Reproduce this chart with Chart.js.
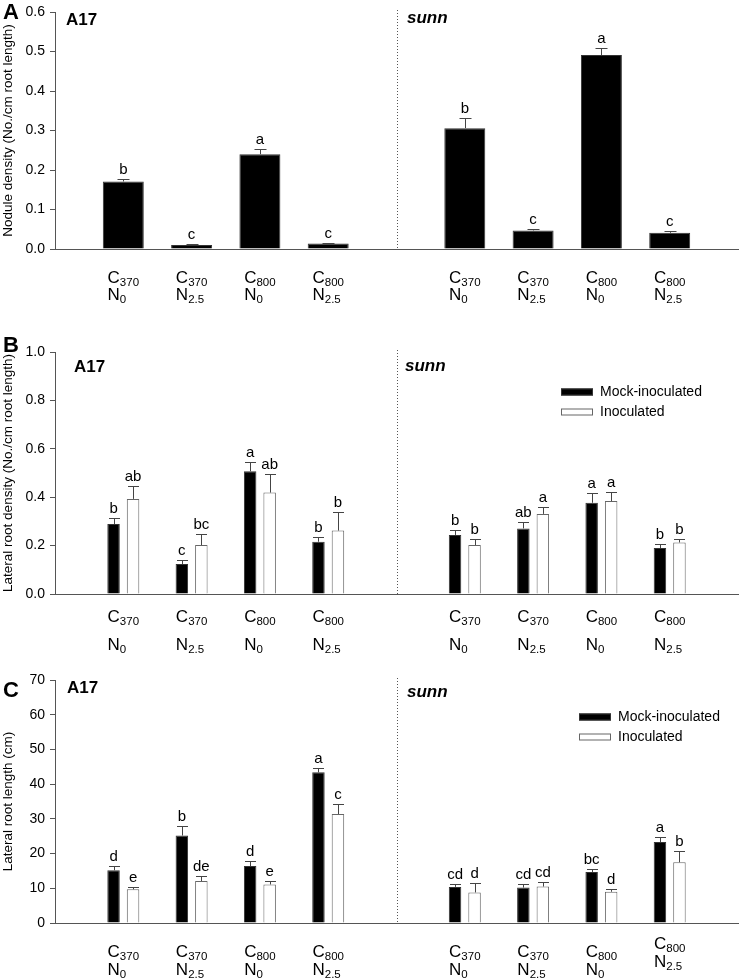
<!DOCTYPE html>
<html lang="en">
<head>
<meta charset="UTF-8">
<title>Nodule density and lateral roots</title>
<script src="https://cdn.jsdelivr.net/npm/chart.js"></script>
<style>
  body { margin: 0; background: #fff; }
  .panel { position: absolute; left: 0; width: 740px; }
</style>
</head>
<body>
<div class="panel" style="top:0px"><canvas id="chartA" width="740" height="325"></canvas></div>
<div class="panel" style="top:325px"><canvas id="chartB" width="740" height="335"></canvas></div>
<div class="panel" style="top:655px"><canvas id="chartC" width="740" height="325"></canvas></div>
<script>
// treatments (same order in both genotypes)
const genotypes = ['A17', 'sunn'];
const co2Levels = ['370', '370', '800', '800'];
const nLevels = ['0', '2.5', '0', '2.5'];
const seriesNames = ['Mock-inoculated', 'Inoculated'];

// A - nodule density (No./cm root length), A17 x4 then sunn x4
const noduleMean = [0.171, 0.010, 0.240, 0.014, 0.306, 0.047, 0.491, 0.041];
const noduleErr  = [0.007, 0.002, 0.012, 0.002, 0.025, 0.003, 0.017, 0.004];
const noduleSig  = ['b', 'c', 'a', 'c', 'b', 'c', 'a', 'c'];

// B - lateral root density
const lrdMock    = [0.289, 0.124, 0.507, 0.216, 0.244, 0.271, 0.377, 0.190];
const lrdMockErr = [0.025, 0.016, 0.040, 0.020, 0.020, 0.027, 0.039, 0.017];
const lrdMockSig = ['b', 'c', 'a', 'b', 'b', 'ab', 'a', 'b'];
const lrdInoc    = [0.393, 0.202, 0.419, 0.262, 0.202, 0.331, 0.384, 0.213];
const lrdInocErr = [0.054, 0.046, 0.075, 0.077, 0.027, 0.027, 0.036, 0.016];
const lrdInocSig = ['ab', 'bc', 'ab', 'b', 'b', 'a', 'a', 'b'];

// C - lateral root length (cm)
const lrlMock    = [15.2, 25.2, 16.4, 43.4, 10.4, 10.2, 14.7, 23.3];
const lrlMockErr = [1.2, 2.7, 1.6, 1.3, 0.7, 1.1, 0.8, 1.6];
const lrlMockSig = ['d', 'b', 'd', 'a', 'cd', 'cd', 'bc', 'a'];
const lrlInoc    = [9.7, 12.1, 11.1, 31.4, 8.8, 10.5, 9.0, 17.5];
const lrlInocErr = [0.8, 1.3, 0.9, 3.0, 2.7, 1.4, 0.9, 3.2];
const lrlInocSig = ['e', 'de', 'e', 'c', 'd', 'cd', 'd', 'b'];

const FONT = '"Liberation Sans", Arial, Helvetica, sans-serif';

// empty slot at both ends and one between genotypes (where the dotted divider goes)
function toSlots(arr, blank) {
  return [blank, ...arr.slice(0, 4), blank, ...arr.slice(4), blank];
}
const slotLabels = toSlots(genotypes.flatMap(g => co2Levels.map((c, i) => g + ' C' + c + ' N' + nLevels[i])), '');

function drawSub(ctx, x, y, main, sub) {
  ctx.font = '17px ' + FONT;
  ctx.fillText(main, x, y);
  const w = ctx.measureText(main).width;
  ctx.font = '11.5px ' + FONT;
  ctx.fillText(sub, x + w, y + 3);
}
function subWidth(ctx, main, sub) {
  ctx.font = '17px ' + FONT;
  const w = ctx.measureText(main).width;
  ctx.font = '11.5px ' + FONT;
  return w + ctx.measureText(sub).width;
}

const panelDecor = {
  id: 'panelDecor',
  afterDraw(chart, args, o) {
    const { ctx, chartArea: area } = chart;
    const x = chart.scales.x, y = chart.scales.y;
    ctx.save();

    // dotted divider between genotypes
    const xd = Math.round(x.getPixelForValue(5)) + 0.5;
    ctx.strokeStyle = '#555';
    ctx.lineWidth = 1;
    ctx.setLineDash([1, 2]);
    ctx.beginPath();
    ctx.moveTo(xd, area.top - 2);
    ctx.lineTo(xd, area.bottom);
    ctx.stroke();
    ctx.setLineDash([]);

    // error bars (upper only) and significance letters
    chart.data.datasets.forEach((ds, d) => {
      const meta = chart.getDatasetMeta(d);
      meta.data.forEach((bar, i) => {
        const v = ds.data[i];
        if (v == null) return;
        const top = Math.round(y.getPixelForValue(v + ds.errors[i])) + 0.5;
        const bx = Math.round(bar.x) + 0.5;
        ctx.strokeStyle = '#444';
        ctx.beginPath();
        ctx.moveTo(bx, bar.y);
        ctx.lineTo(bx, top);
        ctx.moveTo(bx - o.capWidth / 2, top);
        ctx.lineTo(bx + o.capWidth / 2, top);
        ctx.stroke();
        ctx.fillStyle = '#000';
        ctx.font = '15px ' + FONT;
        ctx.textAlign = 'center';
        ctx.textBaseline = 'alphabetic';
        ctx.fillText(ds.letters[i], bar.x, top - 6);
      });
    });

    // treatment labels under the axis
    ctx.textAlign = 'left';
    ctx.textBaseline = 'alphabetic';
    ctx.fillStyle = '#000';
    for (let k = 0; k < 8; k++) {
      const slot = k < 4 ? k + 1 : k + 2;
      const cx = x.getPixelForValue(slot);
      const c = co2Levels[k % 4], n = nLevels[k % 4];
      const x0 = cx - subWidth(ctx, 'C', c) / 2;
      const lift = (o.lift && o.lift[k]) || 0;
      drawSub(ctx, x0, o.labelY[0] - lift, 'C', c);
      drawSub(ctx, x0, o.labelY[1] - lift, 'N', n);
    }

    // panel letter and genotype names
    ctx.font = 'bold 22px ' + FONT;
    ctx.fillText(o.letter, 3, o.letterY);
    ctx.font = 'bold 17px ' + FONT;
    ctx.fillText(genotypes[0], o.a17[0], o.a17[1]);
    ctx.font = 'italic bold 17px ' + FONT;
    ctx.fillText(genotypes[1], o.sunn[0], o.sunn[1]);

    // legend
    if (o.legend) {
      const [lx, ly] = o.legend;
      chart.data.datasets.forEach((ds, d) => {
        const yy = ly + d * 20;
        ctx.fillStyle = ds.backgroundColor;
        ctx.fillRect(lx, yy - 3.5, 32, 7);
        ctx.strokeStyle = ds.borderColor;
        ctx.strokeRect(lx + 0.5, yy - 3, 31, 6);
        ctx.fillStyle = '#000';
        ctx.font = '14px ' + FONT;
        ctx.textBaseline = 'middle';
        ctx.fillText(ds.label, lx + 39, yy);
      });
    }
    ctx.restore();
  }
};

function makeChart(id, cfg) {
  const ctx = document.getElementById(id).getContext('2d');
  return new Chart(ctx, {
    type: 'bar',
    data: { labels: slotLabels, datasets: cfg.datasets },
    options: {
      responsive: false,
      animation: false,
      layout: { padding: cfg.padding },
      datasets: { bar: { categoryPercentage: cfg.catPct, barPercentage: cfg.barPct } },
      scales: {
        x: {
          offset: false,
          grid: { display: false },
          ticks: { display: false },
          border: { color: '#555', width: 1 },
          afterFit(s) { s.height = 0; }
        },
        y: {
          min: 0,
          max: cfg.yMax,
          ticks: {
            stepSize: cfg.step,
            color: '#000',
            padding: 5,
            font: { family: FONT, size: 14, lineHeight: 1 },
            callback: v => cfg.decimals ? Number(v).toFixed(cfg.decimals) : v
          },
          grid: { drawOnChartArea: false, drawTicks: true, tickLength: 5, color: '#555' },
          border: { color: '#555', width: 1 },
          title: {
            display: true,
            text: cfg.yTitle,
            color: '#000',
            padding: 0,
            font: { family: FONT, size: 13.5 }
          },
          afterFit(s) { s.width = 55; }
        }
      },
      plugins: {
        legend: { display: false },
        tooltip: { enabled: false },
        panelDecor: cfg.decor
      }
    },
    plugins: [panelDecor]
  });
}

function bars(label, values, errs, sig, fill, border) {
  return {
    label: label,
    data: toSlots(values, null),
    errors: toSlots(errs, null),
    letters: toSlots(sig, ''),
    backgroundColor: fill,
    borderColor: border,
    borderWidth: 1
  };
}

makeChart('chartA', {
  datasets: [bars('Nodule density', noduleMean, noduleErr, noduleSig, '#000', '#333')],
  padding: { top: 7, bottom: 76, left: 0, right: 2 },
  catPct: 0.6, barPct: 1.0,
  yMax: 0.6, step: 0.1, decimals: 1,
  yTitle: 'Nodule density (No./cm root length)',
  decor: { capWidth: 12, labelY: [283, 300], letter: 'A', letterY: 19, a17: [66, 25], sunn: [407, 23] }
});

makeChart('chartB', {
  datasets: [
    bars(seriesNames[0], lrdMock, lrdMockErr, lrdMockSig, '#000', '#333'),
    bars(seriesNames[1], lrdInoc, lrdInocErr, lrdInocSig, '#fff', '#666')
  ],
  padding: { top: 27, bottom: 66, left: 0, right: 2 },
  catPct: 0.571, barPct: 0.64,
  yMax: 1.0, step: 0.2, decimals: 1,
  yTitle: 'Lateral root density (No./cm root length)',
  decor: { capWidth: 11, labelY: [297, 325], letter: 'B', letterY: 27, a17: [74, 47], sunn: [405, 46], legend: [561, 67] }
});

makeChart('chartC', {
  datasets: [
    bars(seriesNames[0], lrlMock, lrlMockErr, lrlMockSig, '#000', '#333'),
    bars(seriesNames[1], lrlInoc, lrlInocErr, lrlInocSig, '#fff', '#666')
  ],
  padding: { top: 25, bottom: 57, left: 0, right: 2 },
  catPct: 0.571, barPct: 0.64,
  yMax: 70, step: 10, decimals: 0,
  yTitle: 'Lateral root length (cm)',
  decor: { capWidth: 11, labelY: [302, 320], letter: 'C', letterY: 42, a17: [67, 38], sunn: [407, 42], legend: [579, 62],
           lift: [0, 0, 0, 0, 0, 0, 0, 8] }
});
</script>
</body>
</html>
